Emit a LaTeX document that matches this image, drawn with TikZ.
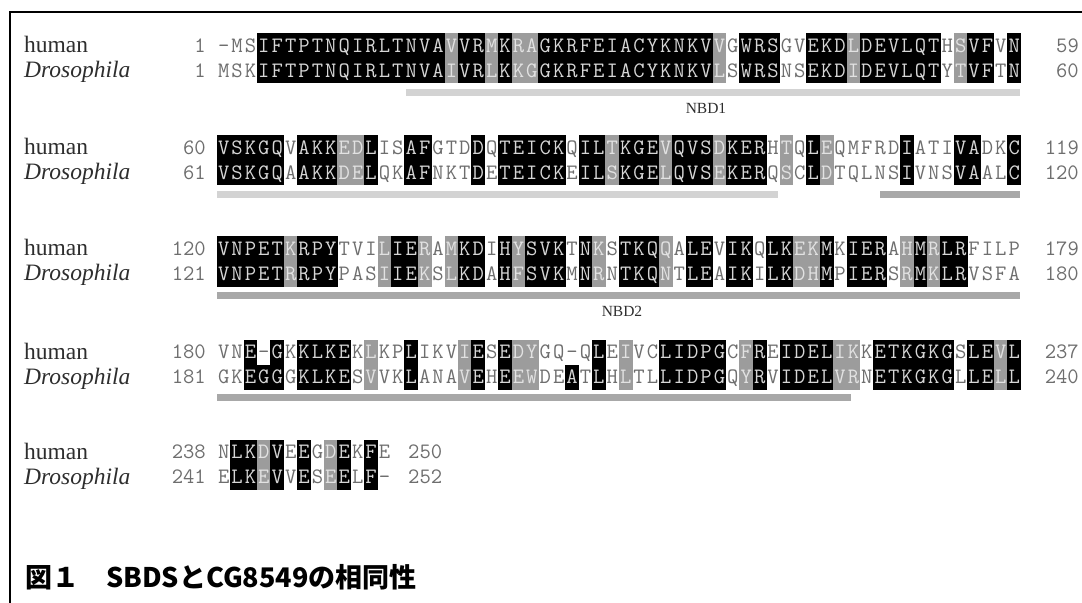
\documentclass[tikz,border=0pt]{standalone}
\usepackage{fontspec}
\setmainfont{Liberation Serif}
\newfontfamily\cjkfont{Noto Sans CJK JP}
\definecolor{shG}{HTML}{9C9C9C}
\definecolor{txN}{HTML}{6E6E6E}
\definecolor{txB}{HTML}{D6D6D6}
\definecolor{txG}{HTML}{E2E2E2}
\definecolor{barL}{HTML}{D3D3D3}
\definecolor{barD}{HTML}{A8A8A8}
\definecolor{lab}{HTML}{2E2E2E}
\tikzset{
  seqtxt/.style={font=\ttfamily\fontsize{22bp}{22bp}\selectfont, inner sep=0pt, anchor=base},
  numtxt/.style={font=\ttfamily\fontsize{22bp}{22bp}\selectfont, inner sep=0pt, text=txN},
  spname/.style={font=\fontsize{23.5bp}{23.5bp}\selectfont, inner sep=0pt, anchor=base west, text=lab},
  spital/.style={spname, font=\itshape\fontsize{23.5bp}{23.5bp}\selectfont},
  domlab/.style={font=\fontsize{15.5bp}{15.5bp}\selectfont, inner sep=0pt, text=lab},
  barlight/.style={fill=barL},
  bardark/.style={fill=barD}
}
\newcommand\seqX{217}
\newcommand\seqP{13.4}
\newcommand\seqH{12.5}
\newcommand\seqB{6.8}
\newcommand\res[4]{%
  \pgfmathsetmacro\resx{\seqX+(#1-1)*\seqP}%
  \if#4B%
    \fill[black] (\resx-0.15,#2-\seqH) rectangle ++(\seqP+0.3,2*\seqH);%
    \node[seqtxt,text=txB] at (\resx+0.5*\seqP,#2+\seqB) {#3};%
  \else\if#4G%
    \fill[shG] (\resx-0.15,#2-\seqH) rectangle ++(\seqP+0.3,2*\seqH);%
    \node[seqtxt,text=txG] at (\resx+0.5*\seqP,#2+\seqB) {#3};%
  \else
    \node[seqtxt,text=txN] at (\resx+0.5*\seqP,#2+\seqB) {#3};%
  \fi\fi}
\ExplSyntaxOn
\NewDocumentCommand \seqrow { m m m }
  {
    \str_set:Nn \l_tmpa_str {#2}
    \str_remove_all:Nn \l_tmpa_str { ~ }
    \str_set:Nn \l_tmpb_str {#3}
    \str_remove_all:Nn \l_tmpb_str { ~ }
    \int_step_inline:nn { \str_count:N \l_tmpa_str }
      {
        \use:e
          {
            \exp_not:N \res {##1} {#1}
              { \str_item:Nn \l_tmpa_str {##1} }
              { \str_item:Nn \l_tmpb_str {##1} }
          }
      }
  }
\ExplSyntaxOff
\begin{document}
\begin{tikzpicture}[x=1bp,y=-1bp]
\useasboundingbox (0,0) rectangle (1082,603);
\fill[white] (0,0) rectangle (1082,603);
\draw[line width=2.5bp] (1095,12) -- (10,12) -- (10,640);

% ---------- block 1
\node[spname] (h1) at (24,46+7) {human};
\node[spital] (d1) at (24,71+7) {Drosophila};
\node[numtxt,anchor=base east] (h1l) at (206,46+\seqB) {1};
\node[numtxt,anchor=base east] (d1l) at (206,71+\seqB) {1};
\seqrow{46}{-MSIFTPTNQ IRLTNVAVVR MKRAGKRFEI ACYKNKVVGW RSGVEKDLDE VLQTHSVFVN}
           {...BBBBBBB BBBBBBBGBB GBGGBBBBBB BBBBBBBG.B BB..BBBGBB BBBB.GBB.B}
\seqrow{71}{MSKIFTPTNQ IRLTNVAIVR LKKGGKRFEI ACYKNKVLSW RSNSEKDIDE VLQTYTVFTN}
           {...BBBBBBB BBBBBBBGBB GBGGBBBBBB BBBBBBBG.B BB..BBBGBB BBBB.GBB.B}
\node[numtxt,anchor=base east] (h1r) at (1079,46+\seqB) {59};
\node[numtxt,anchor=base east] (d1r) at (1079,71+\seqB) {60};
\fill[barlight] (406,89) rectangle (1020,96);
\node[domlab] (nbd1) at (706,108) {NBD1};

% ---------- block 2
\node[spname] (h2) at (24,148+7) {human};
\node[spital] (d2) at (24,173+7) {Drosophila};
\node[numtxt,anchor=base east] (h2l) at (206,148+\seqB) {60};
\node[numtxt,anchor=base east] (d2l) at (206,173+\seqB) {61};
\seqrow{148}{VSKGQVAKKE DLISAFGTDD QTEICKQILT KGEVQVSDKE RHTQLEQMFR DIATIVADKC}
            {BBBBB.BBBG GB..BB...B .BBBBB.BBG BBBGBBBGBB B.G.BG.... .B...BB..B}
\seqrow{173}{VSKGQAAKKD ELQKAFNKTD ETEICKEILS KGELQVSEKE RQSCLDTQLN SIVNSVAALC}
            {BBBBB.BBBG GB..BB...B .BBBBB.BBG BBBGBBBGBB B.G.BG.... .B...BB..B}
\node[numtxt,anchor=base east] (h2r) at (1079,148+\seqB) {119};
\node[numtxt,anchor=base east] (d2r) at (1079,173+\seqB) {120};
\fill[barlight] (217,191) rectangle (778,198);
\fill[bardark] (880,191) rectangle (1020,198);

% ---------- block 3
\node[spname] (h3) at (24,249+7) {human};
\node[spital] (d3) at (24,274+7) {Drosophila};
\node[numtxt,anchor=base east] (h3l) at (206,249+\seqB) {120};
\node[numtxt,anchor=base east] (d3l) at (206,274+\seqB) {121};
\seqrow{249}{VNPETKRPYT VILIERAMKD IHYSVKTNKS TKQQALEVIK QLKEKMKIER AHMRLRFILP}
            {BBBBBGBBB. ..GBBG.GBB .BGBBB.BG. BBBG.BB.BB .BBGGB.BBB .GBGBB....}
\seqrow{274}{VNPETRRPYP ASIIEKSLKD AHFSVKMNRN TKQNTLEAIK ILKDHMPIER SRMKLRVSFA}
            {BBBBBGBBB. ..GBBG.GBB .BGBBB.BG. BBBG.BB.BB .BBGGB.BBB .GBGBB....}
\node[numtxt,anchor=base east] (h3r) at (1079,249+\seqB) {179};
\node[numtxt,anchor=base east] (d3r) at (1079,274+\seqB) {180};
\fill[bardark] (217,292) rectangle (1020,299);
\node[domlab] (nbd2) at (622,311) {NBD2};

% ---------- block 4
\node[spname] (h4) at (24,352+7) {human};
\node[spital] (d4) at (24,377+7) {Drosophila};
\node[numtxt,anchor=base east] (h4l) at (206,352+\seqB) {180};
\node[numtxt,anchor=base east] (d4l) at (206,377+\seqB) {181};
\seqrow{352}{VNE-GKKLKE KLKPLIKVIE SEDYGQ-QLE IVCLIDPGCF REIDELIKKE TKGKGSLEVL}
            {..B.B.BBBB .G..B...GB .BGG....B. G..BBBBB.G B.BBBBGG.B BBBBB.BBGB}
\seqrow{377}{GKEGGGKLKE SVVKLANAVE HEEWDEATLH LTLLIDPGQY RVIDELVRNE TKGKGLLELL}
            {..BBB.BBBB .G..B...GB .BGG..B.B. G..BBBBB.G B.BBBBGG.B BBBBB.BBGB}
\node[numtxt,anchor=base east] (h4r) at (1079,352+\seqB) {237};
\node[numtxt,anchor=base east] (d4r) at (1079,377+\seqB) {240};
\fill[bardark] (217,394) rectangle (851,401);

% ---------- block 5
\node[spname] (h5) at (24,452+7) {human};
\node[spital] (d5) at (24,477+7) {Drosophila};
\node[numtxt,anchor=base east] (h5l) at (206,452+\seqB) {238};
\node[numtxt,anchor=base east] (d5l) at (206,477+\seqB) {241};
\seqrow{452}{NLKDVEEGDE KFE}{.BBGB.B.GB .B.}
\seqrow{477}{ELKEVVESEE LF-}{.BBGB.B.GB .B.}
\node[numtxt,anchor=base west] (h5r) at (408,452+\seqB) {250};
\node[numtxt,anchor=base west] (d5r) at (408,477+\seqB) {252};

% ---------- caption
\node[anchor=west, inner sep=0pt, font=\cjkfont\bfseries\fontsize{27bp}{27bp}\selectfont] (cap) at (25,577) {図１　SBDSとCG8549の相同性};
\end{tikzpicture}
\end{document}
